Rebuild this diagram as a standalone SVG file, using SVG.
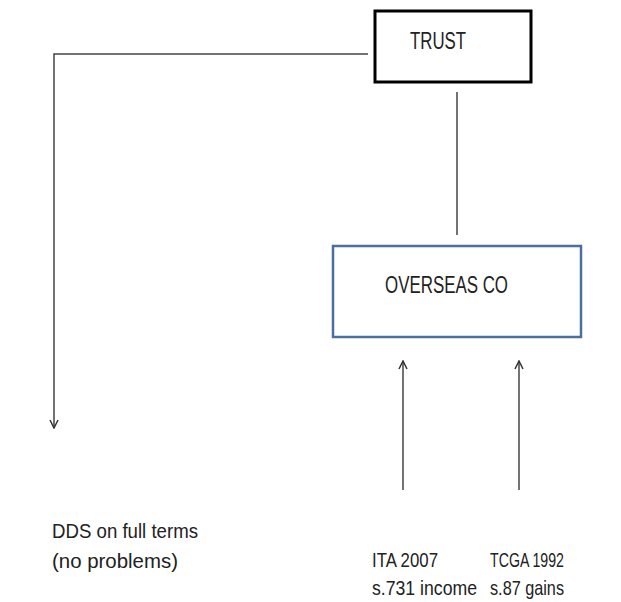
<svg xmlns="http://www.w3.org/2000/svg" width="621" height="602" viewBox="0 0 621 602">
<style>
  .lbl { font-family: "Liberation Sans", Arial, sans-serif; font-size: 21px; fill: #222; }
  .big { font-size: 24px; }
  .conn { stroke: #444; stroke-width: 1.5; fill: none; }
</style>
<defs>
  <marker id="arr" viewBox="0 0 10 10" refX="9" refY="5" markerWidth="10" markerHeight="10" markerUnits="userSpaceOnUse" orient="auto">
    <path d="M1,1 L9,5 L1,9" fill="none" stroke="#333" stroke-width="1.5"/>
  </marker>
</defs>
<rect width="621" height="602" fill="#fff"/>
<g id="connectors">
  <polyline class="conn" points="368,54 54,54 54,428" marker-end="url(#arr)"/>
  <line class="conn" x1="457" y1="92" x2="457" y2="235"/>
  <line class="conn" x1="403" y1="490" x2="403" y2="361" marker-end="url(#arr)"/>
  <line class="conn" x1="519" y1="490" x2="519" y2="361" marker-end="url(#arr)"/>
</g>
<g id="trust">
  <rect x="375" y="11" width="156" height="71" fill="#fff" stroke="#000" stroke-width="3"/>
  <text class="lbl big" x="410" y="49" textLength="56" lengthAdjust="spacingAndGlyphs">TRUST</text>
</g>
<g id="overseas">
  <rect x="333" y="246" width="248" height="91" fill="#fff" stroke="#4a6fa0" stroke-width="2.5"/>
  <text class="lbl big" x="385" y="293" textLength="123" lengthAdjust="spacingAndGlyphs">OVERSEAS CO</text>
</g>
<g id="dds">
  <text class="lbl" x="52" y="538" textLength="146" lengthAdjust="spacingAndGlyphs">DDS on full terms</text>
  <text class="lbl" x="52" y="568" textLength="126" lengthAdjust="spacingAndGlyphs">(no problems)</text>
</g>
<g id="ita">
  <text class="lbl" x="372" y="567" textLength="66" lengthAdjust="spacingAndGlyphs">ITA 2007</text>
  <text class="lbl" x="372" y="595" textLength="105" lengthAdjust="spacingAndGlyphs">s.731 income</text>
</g>
<g id="tcga">
  <text class="lbl" x="490" y="567" textLength="74" lengthAdjust="spacingAndGlyphs">TCGA 1992</text>
  <text class="lbl" x="490" y="595" textLength="74" lengthAdjust="spacingAndGlyphs">s.87 gains</text>
</g>
</svg>
